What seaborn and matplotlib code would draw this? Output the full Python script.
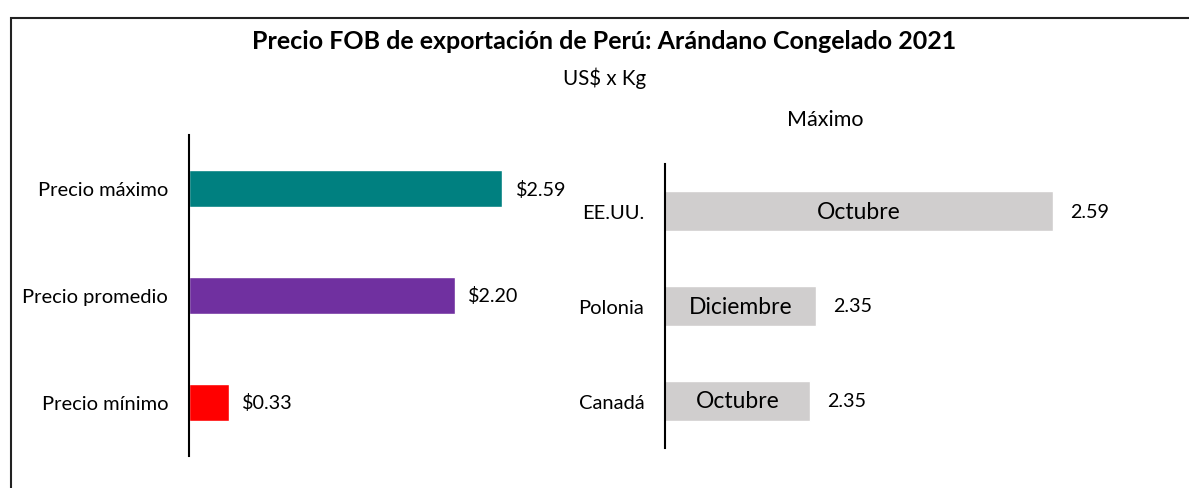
import matplotlib
matplotlib.use("Agg")
import matplotlib.pyplot as plt
import seaborn as sns
import pandas as pd
from matplotlib.patches import Rectangle

# ---- data ----
title = "Precio FOB de exportación de Perú: Arándano Congelado 2021"
subtitle = "US$ x Kg"
left_categories = ["Precio máximo", "Precio promedio", "Precio mínimo"]
left_values = [2.59, 2.20, 0.33]
left_colors = ["#008080", "#7030A0", "#FF0000"]
right_title = "Máximo"
right_countries = ["EE.UU.", "Polonia", "Canadá"]
right_values = [2.59, 2.352, 2.346]
right_months = ["Octubre", "Diciembre", "Octubre"]

sns.set_theme(style="white")
plt.rcParams['font.family'] = ['Lato', 'DejaVu Sans']

W, H = 1189, 489
fig = plt.figure(figsize=(W / 100, H / 100), dpi=100)
fig.patch.set_facecolor("white")

ax1 = fig.add_axes([189 / W, (H - 457) / H, 363 / W, 321 / H])
ax2 = fig.add_axes([665 / W, (H - 449) / H, 497.5 / W, 284 / H])

# ---- left panel ----
df1 = pd.DataFrame({"cat": left_categories, "val": left_values})
sns.barplot(data=df1, y="cat", x="val", hue="cat", palette=left_colors,
            orient="h", width=0.35, saturation=1, legend=False, ax=ax1)
for cont, v in zip(ax1.containers, left_values):
    ax1.bar_label(cont, labels=[f"${v:.2f}"], padding=9.5, fontsize=14.2, color="black")
ax1.set_xlim(0, 3.0)
ax1.set_ylim(2.5, -0.5)

# ---- right panel ----
df2 = pd.DataFrame({"country": right_countries, "val": right_values})
sns.barplot(data=df2, y="country", x="val", color="#D0CECE", orient="h",
            width=0.42, saturation=1, ax=ax2)
x0 = 2.2
ax2.set_xlim(x0, 2.7)
ax2.set_ylim(2.5, -0.5)
for cont in ax2.containers:
    ax2.bar_label(cont, labels=[f"{v:.2f}" for v in right_values], padding=12,
                  fontsize=14.2, color="black")
for i, (v, m) in enumerate(zip(right_values, right_months)):
    ax2.text((x0 + v) / 2, i, m, ha="center", va="center", fontsize=16.5, color="black")

for ax in (ax1, ax2):
    for s in ("top", "right", "bottom"):
        ax.spines[s].set_visible(False)
    ax.spines["left"].set_color("black")
    ax.spines["left"].set_linewidth(1.5)
    ax.set_xlabel("")
    ax.set_ylabel("")
    ax.set_xticks([])
    ax.tick_params(axis="y", length=0, pad=15, labelsize=14.5, labelcolor="black")
    ax.set_facecolor("white")

# ---- titles ----
fig.text(604 / W, 1 - 42 / H, title, ha="center", va="center", fontsize=18,
         fontweight="bold", color="black")
fig.text(605 / W, 1 - 78 / H, subtitle, ha="center", va="center", fontsize=14.8, color="black")
fig.text(825 / W, 1 - 120 / H, right_title, ha="center", va="center", fontsize=15.5, color="black")

# ---- outer border ----
fig.patches.append(Rectangle((11 / W, -0.05), 1.2, (1 - 19 / H) + 0.05,
                             transform=fig.transFigure, fill=False,
                             edgecolor="#222222", linewidth=1.5))

fig.savefig("out.png", dpi=100, facecolor="white")
